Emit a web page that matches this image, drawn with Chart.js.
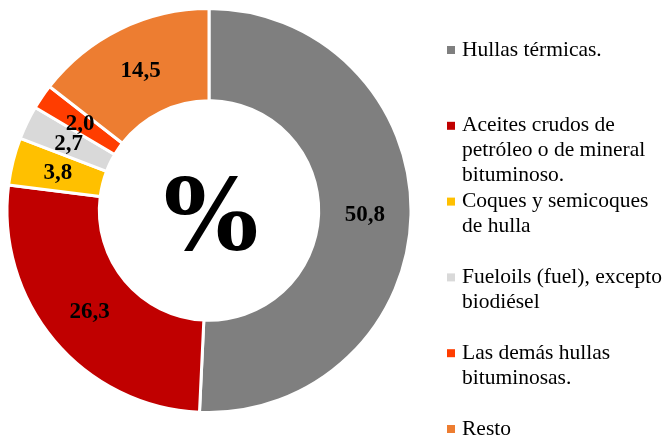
<!DOCTYPE html>
<html>
<head>
<meta charset="utf-8">
<script src="https://cdn.jsdelivr.net/npm/chart.js@4"></script>
<style>
  html, body { margin: 0; padding: 0; background: #fff; }
  #wrap { width: 670px; height: 438px; }
</style>
</head>
<body>
<div id="wrap"><canvas id="donutChart"></canvas></div>
<script>
// Données
const categories = [
  ['Hullas térmicas.'],
  ['Aceites crudos de', 'petróleo o de mineral', 'bituminoso.'],
  ['Coques y semicoques', 'de hulla'],
  ['Fueloils (fuel), excepto', 'biodiésel'],
  ['Las demás hullas', 'bituminosas.'],
  ['Resto']
];
const values = [50.8, 26.3, 3.8, 2.7, 2.0, 14.5];
const colors = ['#7F7F7F', '#C00000', '#FFC000', '#D9D9D9', '#FF3D00', '#ED7D31'];

const serif = "'Liberation Serif', 'DejaVu Serif', serif";

// étiquettes de valeurs + symbole central
const labelsPlugin = {
  id: 'valueLabels',
  afterDatasetsDraw(chart) {
    const ctx = chart.ctx;
    const meta = chart.getDatasetMeta(0);
    ctx.save();
    ctx.fillStyle = '#000';
    ctx.textAlign = 'center';
    ctx.textBaseline = 'middle';
    ctx.font = 'bold 23px ' + serif;
    meta.data.forEach((arc, i) => {
      const p = arc.tooltipPosition();
      ctx.fillText(values[i].toFixed(1).replace('.', ','), p.x, p.y + 1);
    });
    const c = meta.data[0];
    ctx.font = "bold 100px 'DejaVu Serif', serif";
    ctx.fillText('%', c.x + 2, c.y + 14);
    ctx.restore();
  }
};

// légende à droite
const legendPlugin = {
  id: 'sideLegend',
  afterDraw(chart) {
    const ctx = chart.ctx;
    const labels = chart.data.labels;
    const bg = chart.data.datasets[0].backgroundColor;
    ctx.save();
    ctx.font = '21.5px ' + serif;
    ctx.textBaseline = 'middle';
    ctx.textAlign = 'left';
    labels.forEach((lines, i) => {
      const y = 50 + i * 75.8;
      ctx.fillStyle = bg[i];
      ctx.fillRect(447, y - 4, 8, 8);
      ctx.fillStyle = '#000';
      lines.forEach((t, j) => ctx.fillText(t, 462, y + j * 25));
    });
    ctx.restore();
  }
};

new Chart(document.getElementById('donutChart'), {
  type: 'doughnut',
  data: {
    labels: categories,
    datasets: [{
      data: values,
      backgroundColor: colors,
      borderColor: '#fff',
      borderWidth: 3
    }]
  },
  options: {
    responsive: true,
    maintainAspectRatio: false,
    animation: false,
    cutout: '54.3%',
    layout: {
      padding: { left: 5, right: 257, top: 7, bottom: 24 }
    },
    plugins: {
      legend: { display: false },
      tooltip: { enabled: false }
    }
  },
  plugins: [labelsPlugin, legendPlugin]
});
</script>
</body>
</html>
